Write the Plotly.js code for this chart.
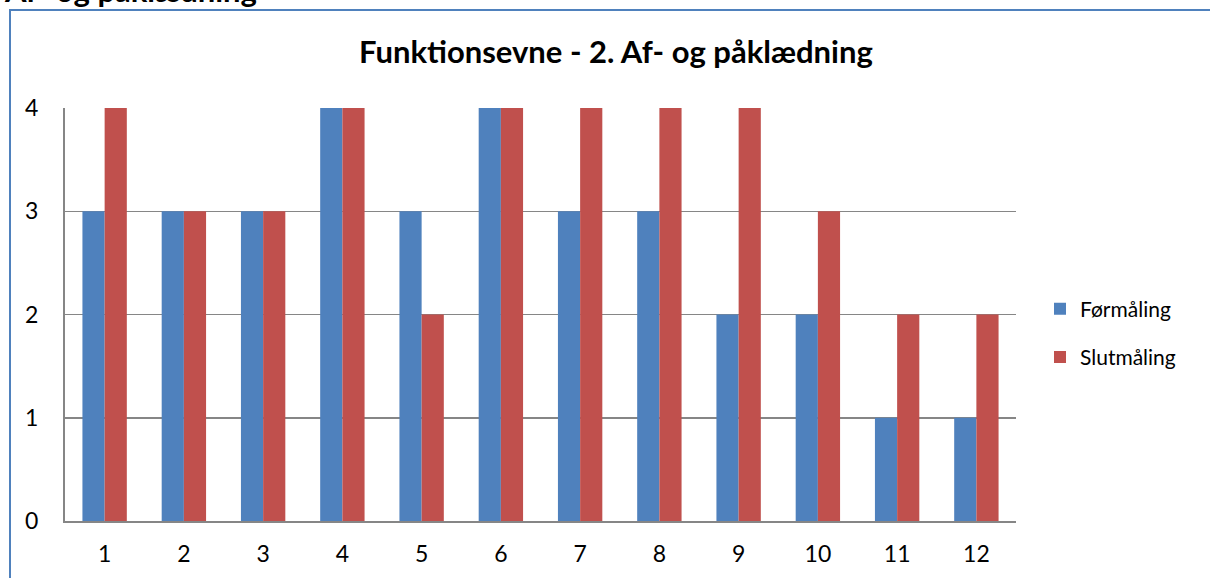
<!DOCTYPE html>
<html>
<head>
<meta charset="utf-8">
<script src="https://cdn.plot.ly/plotly-3.0.1.min.js"></script>
<style>
html,body{margin:0;padding:0;background:#fff;overflow:hidden;}
#wrap{position:relative;width:1210px;height:578px;}
#frame{position:absolute;left:9px;top:9px;width:1201px;height:569px;border-left:2px solid #4F81BD;border-top:2px solid #4F81BD;box-sizing:border-box;pointer-events:none;z-index:5;}
#chart{position:absolute;left:0;top:0;width:1210px;height:578px;}
</style>
</head>
<body>
<div id="wrap">
<div id="chart"></div>
<div id="frame"></div>
</div>
<script>
const categories = ['1','2','3','4','5','6','7','8','9','10','11','12'];
const formaling = [3,3,3,4,3,4,3,3,2,2,1,1];
const slutmaling = [4,3,3,4,2,4,4,4,4,3,2,2];
const yTicks = [0,1,2,3,4];
const chartTitle = 'Funktionsevne - 2. Af- og påklædning';
const sectionHeading = 'Af- og påklædning';

const FONT = 'Lato, "Open Sans", sans-serif';

const traces = [
  {type:'bar', name:'Førmåling', x:categories, y:formaling, marker:{color:'#4F81BD'}, legendgroup:'a'},
  {type:'bar', name:'Slutmåling', x:categories, y:slutmaling, marker:{color:'#C0504D'}, legendgroup:'b'}
];

const L = 65, R = 1016, T = 108, B = 521;
const layout = {
  width:1210, height:578,
  margin:{l:L, r:1210-R, t:T, b:578-B, pad:0},
  paper_bgcolor:'#ffffff', plot_bgcolor:'#ffffff',
  font:{family:FONT, color:'#000000', size:23},
  barmode:'group', bargap:0.44, bargroupgap:0,
  title:{text:'<b>'+chartTitle+'</b>', font:{family:FONT, size:31, color:'#000'}, x:0.509, xanchor:'center', y:1-52/578, yanchor:'middle'},
  xaxis:{type:'category', showgrid:false, showline:true, linecolor:'#868686', linewidth:2,
         ticks:'outside', ticklen:11, tickcolor:'rgba(0,0,0,0)', tickfont:{size:23, family:FONT}, fixedrange:true},
  yaxis:{range:[0,4], tickvals:yTicks, showgrid:true, gridcolor:'#868686', gridwidth:1.5,
         showline:true, linecolor:'#868686', linewidth:2, zeroline:false,
         ticks:'outside', ticklen:20, tickcolor:'rgba(0,0,0,0)', tickfont:{size:23, family:FONT}, fixedrange:true},
  legend:{x:(1040-L)/(R-L), xanchor:'left', y:(B-333)/(B-T), yanchor:'middle',
          font:{size:21, family:FONT}, tracegroupgap:18, itemwidth:30, bgcolor:'rgba(0,0,0,0)'},
  annotations:[{text:'<b>'+sectionHeading+'</b>', xref:'paper', yref:'paper', showarrow:false,
                x:(2-L)/(R-L), xanchor:'left', y:(B+10)/(B-T), yanchor:'middle',
                font:{size:31, family:FONT, color:'#000'}}],
  showlegend:true
};
Plotly.newPlot('chart', traces, layout, {displayModeBar:false, staticPlot:true});
</script>
</body>
</html>
